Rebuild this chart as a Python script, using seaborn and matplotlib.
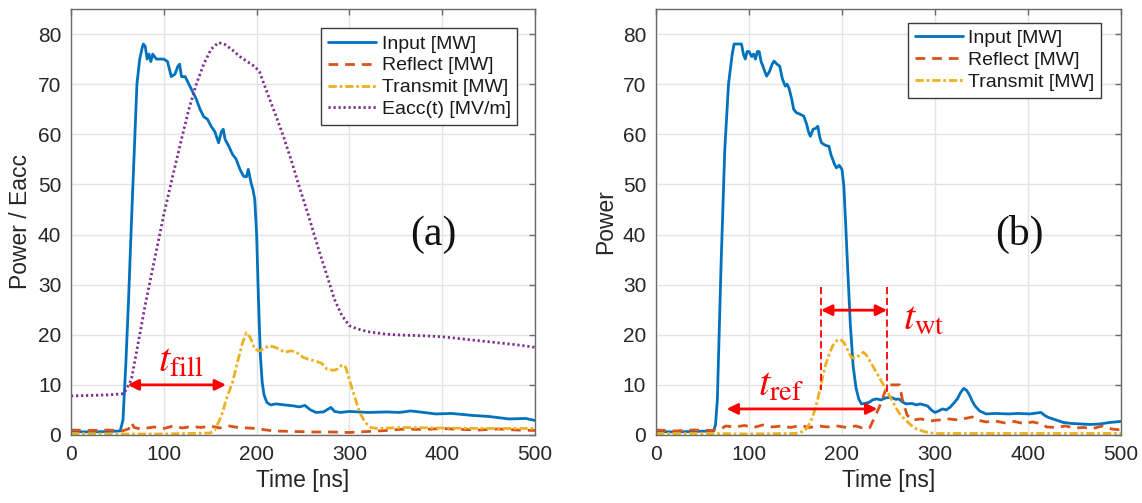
import numpy as np
import pandas as pd
import matplotlib
matplotlib.use("Agg")
import matplotlib.pyplot as plt
import seaborn as sns

# ---- measured waveforms: (time [ns], value) ----
input_a = [(0, 0.7), (20, 0.6), (40, 0.7), (53, 0.8), (56, 3), (59, 14), (62, 27), (65, 42), (68, 56),
           (71, 70), (74, 75), (77, 77.5), (78, 78), (80, 77.5), (82, 75), (84, 76), (86, 74.5), (88, 76),
           (92, 75), (96, 75), (100, 75), (104, 74.5), (108, 71.5), (112, 72), (115, 73.5), (117, 74),
           (119, 71.5), (123, 71.5), (127, 70), (131, 68.5), (135, 67), (139, 65), (143, 63.5), (147, 63),
           (151, 61.6), (155, 60.5), (159, 58.3), (162, 60.5), (164, 61), (166, 59), (170, 57.6),
           (174, 56), (178, 55), (182, 53), (186, 51.6), (189, 51.5), (191, 53), (194, 50.3), (196, 49),
           (198, 47), (200, 40), (202, 27), (204, 16), (206, 10.5), (208, 8), (211, 6.5), (215, 6.0),
           (221, 6.2), (230, 6.0), (240, 5.8), (246, 5.6), (252, 5.9), (258, 5.0), (264, 4.5), (272, 4.6),
           (280, 5.5), (284, 4.7), (290, 4.5), (300, 4.7), (320, 4.5), (340, 4.6), (354, 4.5), (366, 4.8),
           (380, 4.5), (393, 4.2), (410, 4.3), (433, 3.9), (450, 3.7), (472, 3.2), (490, 3.3), (500, 2.9)]

reflect_a = [(0, 1.0), (20, 0.9), (40, 1.0), (55, 0.8), (62, 1.2), (65, 2.5), (68, 1.5), (75, 1.2),
             (90, 1.6), (100, 1.3), (110, 1.8), (120, 1.4), (130, 1.7), (140, 1.5), (150, 1.8),
             (160, 1.4), (170, 1.8), (180, 1.5), (190, 1.4), (200, 1.3), (210, 1.0), (220, 0.8),
             (240, 0.7), (260, 0.6), (280, 0.6), (300, 0.5), (320, 0.7), (340, 0.9), (360, 1.2),
             (380, 1.1), (400, 1.3), (420, 1.1), (440, 1.0), (460, 1.2), (480, 1.0), (500, 0.9)]

transmit_a = [(0, 0.3), (50, 0.2), (100, 0.2), (150, 0.4), (155, 1.0), (162, 3.8), (168, 7.5),
              (174, 10.5), (180, 15), (185, 18.5), (189, 20.4), (193, 19.5), (198, 17.1), (203, 16.8),
              (208, 17.2), (213, 17.8), (218, 17.6), (224, 17.2), (230, 16.5), (237, 16.8), (243, 16.5),
              (250, 15.5), (256, 15.1), (263, 14.8), (270, 14.3), (276, 13.1), (283, 12.9), (288, 13.2),
              (292, 14.0), (296, 13.5), (300, 11), (305, 8), (311, 4.5), (317, 2.5), (323, 1.5),
              (330, 1.3), (360, 1.5), (400, 1.4), (450, 1.3), (500, 1.3)]

eacc_a = [(0, 7.8), (20, 7.9), (40, 8.0), (55, 8.2), (57, 8.3), (62, 10), (65, 11), (72, 18), (80, 26),
          (90, 35), (100, 44), (110, 52), (119, 59), (127, 65), (135, 70), (143, 74), (151, 77),
          (159, 78.3), (166, 77.9), (174, 76.8), (182, 75.5), (190, 74.5), (198, 73.5), (203, 72.5),
          (206, 71), (213, 67.5), (221, 63.6), (229, 59.5), (237, 55), (246, 49.5), (256, 43.7),
          (266, 37.5), (276, 31.7), (284, 27), (292, 23.8), (300, 21.8), (308, 21.2), (320, 20.6),
          (340, 20.1), (360, 19.9), (380, 19.8), (400, 19.6), (420, 19.2), (440, 18.8), (460, 18.4),
          (480, 18.0), (500, 17.5)]

input_b = [(0, 0.7), (20, 0.6), (40, 0.7), (62, 0.8), (64, 2), (66, 7), (70, 34), (74, 57), (78, 70),
           (82, 76), (84, 78), (88, 78), (92, 78), (94, 76), (96, 75), (98, 76.5), (100, 76.5),
           (103, 75.5), (105, 76), (107, 75), (109, 76.5), (111, 76.5), (113, 74.5), (115, 73.6),
           (117, 72.5), (119, 71.6), (122, 72.5), (125, 74), (127, 74.6), (130, 74), (133, 73.6),
           (136, 71), (139, 69.6), (141, 70), (143, 69.2), (146, 67), (148, 65), (151, 64.3), (155, 64),
           (159, 63.6), (162, 62), (164, 60.5), (166, 59.6), (169, 61), (172, 61.2), (174, 61.6),
           (176, 59.5), (178, 58.3), (182, 57.8), (186, 57.6), (188, 56), (190, 55), (192, 54),
           (194, 53.3), (197, 53.8), (200, 53), (202, 49.7), (204, 42), (206, 33.7), (209, 22),
           (212, 13.8), (215, 9.5), (218, 7.2), (221, 6.2), (225, 6.3), (229, 6.5), (233, 7), (237, 7.2),
           (242, 7.0), (247, 7.4), (253, 7.5), (258, 7.1), (261, 7.2), (265, 6.6), (269, 6.2), (275, 6.3),
           (280, 6.0), (284, 6.2), (288, 6.0), (292, 5.8), (296, 5.0), (300, 4.5), (304, 4.8), (308, 5.2),
           (312, 5.0), (316, 5.5), (320, 6.3), (324, 7.2), (328, 8.6), (331, 9.3), (334, 8.9), (337, 8.0),
           (340, 6.8), (343, 5.8), (348, 4.8), (355, 4.2), (365, 4.3), (379, 4.2), (390, 4.3), (402, 4.2),
           (410, 4.4), (414, 4.5), (418, 3.9), (422, 3.5), (430, 3.0), (438, 2.5), (447, 2.3), (457, 2.2),
           (467, 2.1), (477, 2.2), (488, 2.5), (500, 2.7)]

reflect_b = [(0, 1.0), (20, 0.8), (40, 1.0), (60, 0.9), (70, 1.2), (75, 1.8), (85, 1.6), (95, 1.9),
             (105, 1.5), (115, 2.0), (125, 1.6), (135, 1.8), (145, 1.5), (155, 1.9), (165, 1.5),
             (175, 1.8), (185, 1.6), (195, 1.8), (205, 1.5), (215, 1.8), (225, 1.2), (230, 1.5),
             (235, 3.5), (240, 5.5), (245, 8), (249, 10), (262, 10), (265, 7), (270, 4), (275, 3),
             (285, 3.2), (295, 2.8), (305, 3.0), (315, 3.2), (325, 3.0), (335, 3.4), (340, 3.6),
             (345, 3.0), (355, 2.6), (365, 2.8), (375, 2.4), (385, 2.7), (395, 2.3), (405, 2.6),
             (415, 2.2), (420, 1.6), (430, 1.5), (440, 1.8), (450, 1.4), (460, 1.5), (470, 1.3),
             (480, 1.8), (490, 1.2), (500, 1.0)]

transmit_b = [(0, 0.3), (50, 0.3), (100, 0.2), (150, 0.3), (160, 0.8), (166, 2.5), (170, 4.5),
              (174, 7.2), (178, 10.5), (182, 13.8), (186, 16), (190, 17.8), (194, 18.8), (198, 19.1),
              (202, 18.5), (206, 17), (210, 15.5), (214, 15.3), (218, 15.8), (223, 16.5), (226, 16),
              (229, 15.1), (233, 13.8), (237, 12.5), (241, 11.2), (245, 9.8), (249, 8.5), (253, 7.2),
              (257, 5.8), (261, 4.5), (265, 3.6), (269, 2.9), (274, 2.0), (280, 1.2), (290, 0.6),
              (300, 0.3), (350, 0.3), (400, 0.3), (450, 0.3), (500, 0.3)]

labels = ["Input [MW]", "Reflect [MW]", "Transmit [MW]", "Eacc(t) [MV/m]"]
x_ticks = [0, 100, 200, 300, 400, 500]
y_ticks = [0, 10, 20, 30, 40, 50, 60, 70, 80]

# ---- styling ----
sns.set_style("white")
plt.rcParams["font.family"] = ["Liberation Sans", "DejaVu Sans"]
plt.rcParams["mathtext.fontset"] = "stix"

BLUE, ORANGE, YELLOW, PURPLE = "#0072BD", "#D95319", "#EDB120", "#7E2F8E"
RED = "#FF0000"
styles = [
    dict(color=BLUE, linestyle="-"),
    dict(color=ORANGE, linestyle=(0, (3.5, 2.5))),
    dict(color=YELLOW, linestyle=(0, (3.0, 1.0, 1.0, 1.0))),
    dict(color=PURPLE, linestyle=(0, (0.8, 1.0))),
]


def to_frame(pairs):
    arr = np.array(pairs, dtype=float)
    return pd.DataFrame({"t": arr[:, 0], "v": arr[:, 1]})


fig = plt.figure(figsize=(11.42, 5.03), dpi=100)
ax_a = fig.add_axes([0.0622, 0.1352, 0.4063, 0.847])
ax_b = fig.add_axes([0.5744, 0.1352, 0.4072, 0.847])


def draw_panel(ax, series, ylabel):
    for pairs, lab, st in zip(series, labels, styles):
        sns.lineplot(data=to_frame(pairs), x="t", y="v", ax=ax, estimator=None,
                     lw=2.0, label=lab, **st)
    ax.set_xlim(0, 500)
    ax.set_ylim(0, 85)
    ax.set_xticks(x_ticks)
    ax.set_yticks(y_ticks)
    ax.grid(True, color="#e3e3e3", lw=1.0)
    ax.set_axisbelow(True)
    for sp in ax.spines.values():
        sp.set_visible(True)
        sp.set_color("#6a6a6a")
        sp.set_linewidth(1.0)
    ax.tick_params(direction="in", length=4, width=1, color="#6a6a6a",
                   top=True, right=True, labelsize=15, labelcolor="#262626", pad=7)
    ax.set_xlabel("Time [ns]", fontsize=16.5, color="#262626", labelpad=4)
    ax.set_ylabel(ylabel, fontsize=16.5, color="#262626", labelpad=4)


draw_panel(ax_a, [input_a, reflect_a, transmit_a, eacc_a], "Power / Eacc")
draw_panel(ax_b, [input_b, reflect_b, transmit_b], "Power")

for ax, anchor in [(ax_a, (0.962, 0.955)), (ax_b, (0.958, 0.968))]:
    leg = ax.legend(loc="upper right", bbox_to_anchor=anchor, fontsize=14, frameon=True,
                    fancybox=False, framealpha=1, edgecolor="#3a3a3a", handlelength=2.45,
                    handletextpad=0.3, labelspacing=0.22, borderpad=0.35, borderaxespad=0)
    leg.get_frame().set_linewidth(1.0)
    for t in leg.get_texts():
        t.set_color("#1a1a1a")

# ---- panel tags ----
ax_a.text(390, 40, "(a)", fontsize=30, family=["Liberation Serif", "DejaVu Serif"],
          ha="center", va="center", color="#111111")
ax_b.text(391, 40, "(b)", fontsize=30, family=["Liberation Serif", "DejaVu Serif"],
          ha="center", va="center", color="#111111")

arrow = dict(arrowstyle="<|-|>", color=RED, lw=2.0, mutation_scale=16, shrinkA=0, shrinkB=0)

# filling time
ax_a.annotate("", xy=(61, 10), xytext=(167, 10), arrowprops=arrow)
ax_a.text(118, 14.8, r"$t_{\mathrm{fill}}$", fontsize=29, color=RED, ha="center", va="center")

# wave travel time
for x0, y1 in [(177.5, 9.0), (248.5, 8.3)]:
    ax_b.plot([x0, x0], [29.5, y1], color=RED, lw=1.3, linestyle=(0, (4, 2)))
ax_b.annotate("", xy=(177.5, 24.9), xytext=(248.5, 24.9), arrowprops=arrow)
ax_b.text(288, 23.5, r"$t_{\mathrm{wt}}$", fontsize=29, color=RED, ha="center", va="center")

# reflection time
ax_b.annotate("", xy=(76, 5.2), xytext=(238, 5.2), arrowprops=arrow)
ax_b.text(134, 10.0, r"$t_{\mathrm{ref}}$", fontsize=29, color=RED, ha="center", va="center")

fig.savefig("out.png", dpi=100, facecolor="white")
